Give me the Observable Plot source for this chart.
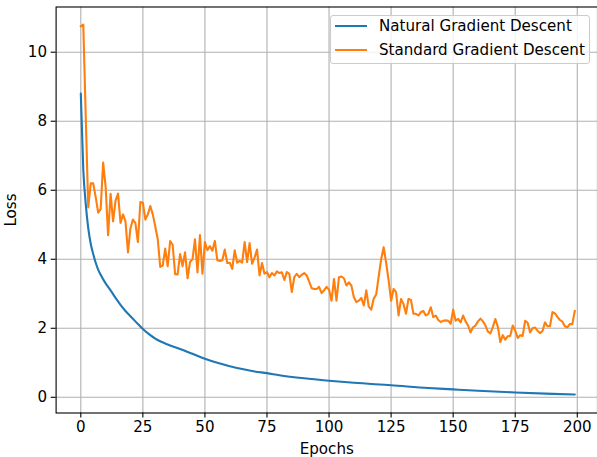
<!DOCTYPE html>
<html>
<head>
<meta charset="utf-8">
<script src="https://cdn.jsdelivr.net/npm/d3@7"></script>
<script src="https://cdn.jsdelivr.net/npm/@observablehq/plot@0.6"></script>
<style>
  html, body { margin: 0; padding: 0; background: #fff; }
  #wrap { position: relative; width: 597px; height: 457px; font-family: "DejaVu Sans", sans-serif; }
  #wrap svg text { font-family: "DejaVu Sans", sans-serif; font-size: 15.1px; fill: #000; }
  #legend { position: absolute; left: 330px; top: 15px; width: 258px; height: 47px;
            border: 1px solid #cccccc; border-radius: 3px; background: rgba(255,255,255,0.8);
            font-size: 15.1px; color: #000; }
  .entry { position: absolute; left: 0; height: 20px; }
  .sw { position: absolute; left: 4px; width: 32px; height: 0; border-top: 2.1px solid; }
  .lab { position: absolute; left: 48px; white-space: nowrap; line-height: 18px; }
</style>
</head>
<body>
<div id="wrap"></div>
<script>
// ---- data ----
const seriesNames = ["Natural Gradient Descent", "Standard Gradient Descent"];
const seriesColors = ["#1f77b4", "#ff7f0e"];

// Natural gradient descent: loss read at selected epochs (smooth curve)
const naturalEpochs = [0,1,2,3,4,5,6,7,8,10,12,14,16,18,20,22,25,28,30,35,40,45,50,55,60,65,70,75,80,90,100,110,125,140,150,160,175,190,199];
const naturalLoss   = [8.8,6.6,5.6,4.9,4.45,4.15,3.9,3.7,3.55,3.3,3.1,2.88,2.68,2.5,2.35,2.2,1.98,1.8,1.7,1.53,1.4,1.26,1.12,1.0,0.9,0.82,0.75,0.7,0.64,0.55,0.48,0.42,0.35,0.27,0.23,0.19,0.14,0.1,0.08];

// Standard gradient descent: loss at every epoch 0..199
const standardLoss = [
  10.75,10.8,8.1,5.5,6.2,6.2,5.8,5.35,5.45,6.8,
  6.1,4.7,5.9,5.1,5.7,5.9,5.05,5.3,5.1,4.2,
  4.9,5.15,5.05,4.5,5.66,5.64,5.15,5.3,5.54,5.3,
  4.95,4.58,3.78,3.82,4.31,3.8,4.53,4.42,3.57,3.56,
  4.15,3.8,4.2,3.45,3.92,4.0,4.58,3.62,4.7,3.58,
  4.5,4.26,4.38,4.25,4.53,3.97,3.95,3.97,4.28,3.89,
  3.9,3.72,4.26,3.9,3.95,3.9,4.5,3.92,4.47,3.87,
  4.05,4.28,3.53,3.89,3.58,3.63,3.48,3.6,3.53,3.65,
  3.6,3.62,3.4,3.63,3.58,3.05,3.48,3.58,3.48,3.55,
  3.6,3.53,3.35,3.16,3.14,3.14,3.2,3.02,3.1,3.2,
  3.12,2.8,3.43,2.8,3.48,3.5,3.45,3.24,3.33,3.24,
  2.9,2.76,2.8,2.88,2.66,3.1,2.63,2.54,2.86,2.98,
  3.5,4.0,4.35,3.9,3.39,2.8,3.14,3.05,2.37,2.85,
  2.7,2.42,2.85,2.82,2.42,2.42,2.37,2.47,2.5,2.37,
  2.42,2.61,2.32,2.37,2.24,2.18,2.22,2.23,2.22,2.13,
  2.54,2.22,2.27,2.17,2.37,2.2,2.08,1.88,2.03,2.08,
  2.2,2.28,2.2,2.08,1.9,1.85,2.04,2.27,2.04,1.6,
  1.8,1.67,1.77,1.78,2.08,1.93,1.72,1.8,1.78,2.22,
  2.16,1.88,2.0,2.02,1.93,1.86,1.92,2.17,2.06,2.06,
  2.47,2.43,2.33,2.24,2.19,2.06,2.03,2.12,2.12,2.5
];

const xTicks = [0,25,50,75,100,125,150,175,200];
const yTicks = [0,2,4,6,8,10];

// ---- build tables ----
const natural = naturalEpochs.map((e, i) => ({epoch: e, loss: naturalLoss[i]}));
const standard = standardLoss.map((v, i) => ({epoch: i, loss: v}));

const fs = 15.1;
const chart = Plot.plot({
  width: 597,
  height: 457,
  marginLeft: 55.6,
  marginRight: 0,
  marginTop: 6.5,
  marginBottom: 44.5,
  style: {fontFamily: "DejaVu Sans, sans-serif", fontSize: fs + "px", color: "#000", background: "#fff", overflow: "visible"},
  x: {domain: [-9.95, 208.95], range: [55.6, 599]},
  y: {domain: [-0.455, 11.31]},
  marks: [
    Plot.gridX(xTicks, {stroke: "#b0b0b0", strokeOpacity: 1, strokeWidth: 1.1}),
    Plot.gridY(yTicks, {stroke: "#b0b0b0", strokeOpacity: 1, strokeWidth: 1.1}),
    Plot.line(natural, {x: "epoch", y: "loss", stroke: seriesColors[0], strokeWidth: 2.1, curve: "monotone-x", strokeLinejoin: "round"}),
    Plot.line(standard, {x: "epoch", y: "loss", stroke: seriesColors[1], strokeWidth: 2.1, strokeLinejoin: "round", strokeLinecap: "square"}),
    Plot.frame({stroke: "#000", strokeWidth: 1.1}),
    Plot.axisX(xTicks, {tickSize: 4.9, tickPadding: 3.5, strokeWidth: 1.1, fontSize: fs, label: "Epochs", labelAnchor: "center", labelOffset: 41, labelArrow: "none"}),
    Plot.axisY(yTicks, {tickSize: 4.9, tickPadding: 4.2, strokeWidth: 1.1, fontSize: fs, label: "Loss", labelAnchor: "center", labelOffset: 51, labelArrow: "none"})
  ]
});
const wrap = document.getElementById("wrap");
wrap.appendChild(chart);

// legend
const leg = document.createElement("div");
leg.id = "legend";
seriesNames.forEach((name, i) => {
  const e = document.createElement("div");
  e.className = "entry";
  e.style.top = (1 + i * 24) + "px";
  const sw = document.createElement("div");
  sw.className = "sw";
  sw.style.borderTopColor = seriesColors[i];
  sw.style.top = "8px";
  const lab = document.createElement("div");
  lab.className = "lab";
  lab.style.top = "0px";
  lab.textContent = name;
  e.appendChild(sw); e.appendChild(lab);
  leg.appendChild(e);
});
wrap.appendChild(leg);
</script>
</body>
</html>
